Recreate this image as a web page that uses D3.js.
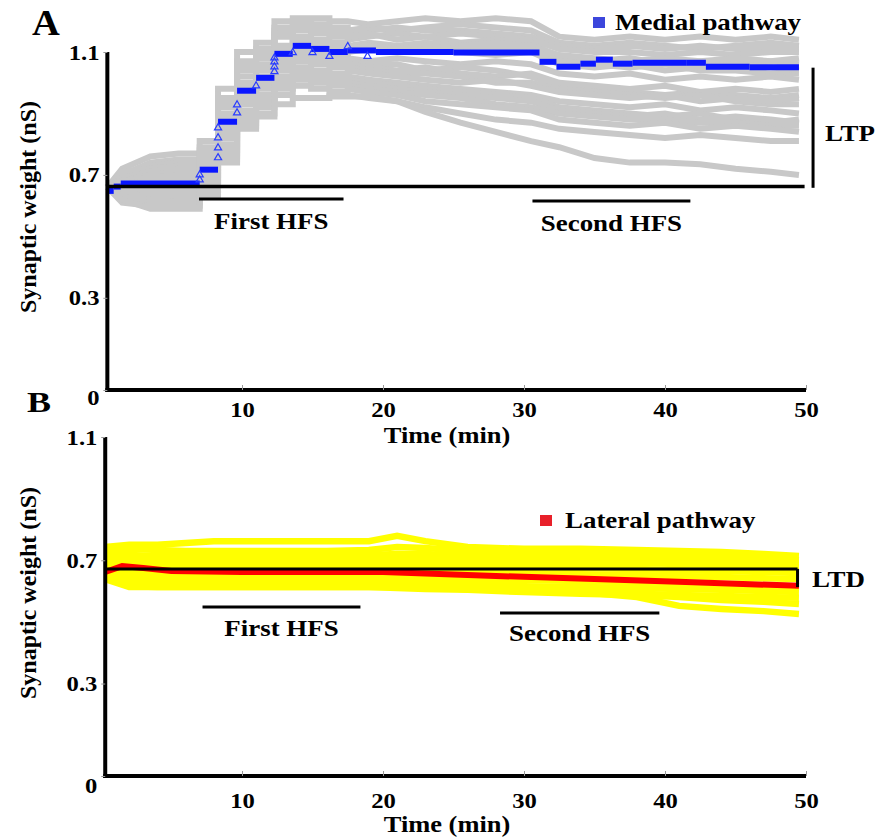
<!DOCTYPE html>
<html>
<head>
<meta charset="utf-8">
<script src="https://cdn.jsdelivr.net/npm/d3@7"></script>
<style>
    body { margin: 0; background: #fff; }
    svg text { font-family: "Liberation Serif", "Times New Roman", serif; font-weight: bold; fill: #000; }
</style>
</head>
<body>
<svg id="chart" width="879" height="840"></svg>
<script>
// ---- data (time in min, weight in nS) ----
var xTicks = [10, 20, 30, 40, 50];
var yTicks = [0, 0.3, 0.7, 1.1];

// panel A: medial pathway, single cells (grey) and mean (blue)
var timesA = [0.45, 1.5, 3.5, 5.5, 7.0, 8.3, 9.65, 11.0, 12.3, 13.6, 14.9, 16.2, 17.5, 19, 21, 23, 25.5, 28, 30.5, 32.5, 35, 37.5, 40, 42.5, 45, 47.5, 49.5];
var hfsStepsA = [7.0, 8.3, 9.65, 11.0, 12.3, 13.6, 14.9, 16.2, 17.5];
var grayTraces = [
    [0.66, 0.72, 0.76, 0.77, 0.81, 0.98, 1.10, 1.13, 1.20, 1.21, 1.21, 1.20, 1.20, 1.19, 1.20, 1.21, 1.20, 1.21, 1.20, 1.15, 1.14, 1.15, 1.14, 1.15, 1.14, 1.15, 1.14],
    [0.66, 0.70, 0.74, 0.75, 0.79, 0.95, 1.07, 1.11, 1.17, 1.20, 1.19, 1.18, 1.17, 1.18, 1.17, 1.18, 1.19, 1.18, 1.17, 1.13, 1.12, 1.13, 1.12, 1.11, 1.12, 1.13, 1.12],
    [0.66, 0.70, 0.73, 0.74, 0.78, 0.94, 1.06, 1.10, 1.18, 1.19, 1.18, 1.17, 1.16, 1.17, 1.18, 1.17, 1.17, 1.16, 1.15, 1.12, 1.11, 1.12, 1.11, 1.12, 1.11, 1.11, 1.11],
    [0.66, 0.71, 0.72, 0.73, 0.77, 0.93, 1.04, 1.09, 1.15, 1.17, 1.16, 1.15, 1.14, 1.15, 1.16, 1.15, 1.16, 1.15, 1.14, 1.11, 1.10, 1.10, 1.09, 1.10, 1.09, 1.10, 1.10],
    [0.66, 0.69, 0.70, 0.71, 0.76, 0.92, 1.05, 1.08, 1.16, 1.18, 1.17, 1.16, 1.15, 1.16, 1.14, 1.15, 1.13, 1.14, 1.13, 1.08, 1.07, 1.08, 1.06, 1.07, 1.06, 1.07, 1.06],
    [0.66, 0.69, 0.71, 0.72, 0.75, 0.90, 1.02, 1.06, 1.12, 1.15, 1.14, 1.13, 1.12, 1.13, 1.12, 1.13, 1.12, 1.13, 1.12, 1.09, 1.08, 1.07, 1.08, 1.07, 1.08, 1.07, 1.08],
    [0.66, 0.68, 0.70, 0.71, 0.74, 0.89, 1.00, 1.05, 1.11, 1.14, 1.13, 1.12, 1.11, 1.12, 1.11, 1.12, 1.11, 1.11, 1.11, 1.07, 1.06, 1.05, 1.06, 1.04, 1.04, 1.03, 1.03],
    [0.66, 0.68, 0.69, 0.70, 0.73, 0.88, 0.99, 1.04, 1.10, 1.13, 1.12, 1.11, 1.10, 1.11, 1.10, 1.11, 1.10, 1.09, 1.10, 1.06, 1.05, 1.06, 1.04, 1.05, 1.06, 1.05, 1.04],
    [0.66, 0.67, 0.68, 0.68, 0.72, 0.86, 0.97, 1.02, 1.08, 1.11, 1.10, 1.09, 1.08, 1.07, 1.08, 1.07, 1.06, 1.07, 1.06, 1.03, 1.02, 1.03, 1.01, 1.02, 1.01, 1.02, 1.01],
    [0.66, 0.67, 0.67, 0.66, 0.71, 0.85, 0.96, 1.01, 1.07, 1.10, 1.09, 1.08, 1.07, 1.06, 1.06, 1.04, 1.05, 1.04, 1.02, 0.99, 0.98, 0.97, 0.96, 0.97, 0.96, 0.95, 0.96],
    [0.66, 0.66, 0.66, 0.67, 0.70, 0.84, 0.95, 1.00, 1.06, 1.09, 1.08, 1.07, 1.06, 1.05, 1.04, 1.05, 1.03, 1.02, 1.03, 1.00, 0.99, 0.98, 0.99, 0.97, 0.98, 0.97, 0.98],
    [0.66, 0.65, 0.66, 0.66, 0.70, 0.83, 0.94, 0.99, 1.05, 1.08, 1.07, 1.06, 1.05, 1.04, 1.03, 1.03, 1.02, 1.00, 1.00, 0.98, 0.97, 0.96, 0.95, 0.96, 0.94, 0.93, 0.93],
    [0.66, 0.65, 0.65, 0.65, 0.69, 0.82, 0.93, 0.98, 1.04, 1.07, 1.06, 1.05, 1.04, 1.03, 1.02, 1.01, 1.00, 1.01, 0.99, 0.97, 0.96, 0.95, 0.96, 0.94, 0.95, 0.94, 0.95],
    [0.66, 0.64, 0.64, 0.64, 0.68, 0.80, 0.91, 0.96, 1.02, 1.05, 1.04, 1.03, 1.02, 1.01, 1.00, 0.99, 0.98, 0.97, 0.96, 0.94, 0.93, 0.92, 0.93, 0.91, 0.92, 0.91, 0.90],
    [0.66, 0.64, 0.63, 0.63, 0.67, 0.79, 0.90, 0.95, 1.01, 1.04, 1.03, 1.02, 1.01, 1.00, 0.99, 0.98, 0.97, 0.96, 0.95, 0.92, 0.91, 0.90, 0.89, 0.90, 0.88, 0.87, 0.88],
    [0.66, 0.63, 0.62, 0.62, 0.66, 0.78, 0.89, 0.94, 1.00, 1.03, 1.02, 1.01, 1.00, 0.99, 0.98, 0.97, 0.96, 0.95, 0.94, 0.91, 0.90, 0.89, 0.90, 0.88, 0.89, 0.88, 0.87],
    [0.66, 0.63, 0.62, 0.61, 0.65, 0.77, 0.88, 0.93, 0.99, 1.02, 1.01, 1.00, 0.99, 0.98, 0.97, 0.96, 0.95, 0.93, 0.92, 0.90, 0.89, 0.88, 0.88, 0.87, 0.87, 0.86, 0.86],
    [0.66, 0.62, 0.61, 0.61, 0.65, 0.76, 0.87, 0.92, 0.98, 1.01, 1.00, 0.99, 0.98, 0.97, 0.96, 0.94, 0.93, 0.92, 0.91, 0.88, 0.87, 0.86, 0.87, 0.85, 0.86, 0.85, 0.84],
    [0.66, 0.61, 0.60, 0.60, 0.64, 0.75, 0.86, 0.90, 0.96, 0.99, 0.98, 0.97, 0.96, 0.95, 0.94, 0.92, 0.90, 0.88, 0.87, 0.85, 0.84, 0.83, 0.82, 0.83, 0.82, 0.81, 0.81],
    [0.66, 0.62, 0.59, 0.59, 0.63, 0.74, 0.85, 0.89, 0.93, 0.95, 0.95, 0.955, 0.955, 0.955, 0.94, 0.905, 0.87, 0.84, 0.81, 0.79, 0.755, 0.74, 0.74, 0.735, 0.72, 0.71, 0.70]
];
var blueTimes = [0.45, 0.9, 1.4, 7.0, 8.3, 9.65, 11.0, 12.3, 13.6, 14.9, 16.2, 17.5, 19.5, 25, 31.1, 32.3, 34.0, 35.1, 36.3, 37.7, 41.5, 42.9, 46, 49.5];
var blueValues = [0.648, 0.662, 0.672, 0.717, 0.873, 0.974, 1.016, 1.094, 1.12, 1.11, 1.10, 1.105, 1.10, 1.098, 1.068, 1.052, 1.062, 1.075, 1.062, 1.065, 1.065, 1.052, 1.050, 1.048];
var triTimes = [7.0, 7.0, 8.3, 8.3, 8.3, 8.3, 9.65, 9.65, 11.0, 12.3, 12.3, 12.3, 12.3, 13.6, 15.0, 16.2, 17.5, 18.9];
var triValues = [0.684, 0.70, 0.756, 0.788, 0.821, 0.853, 0.902, 0.928, 0.99, 1.036, 1.052, 1.068, 1.081, 1.098, 1.098, 1.086, 1.118, 1.086];
var refA = [0.45, 49.9, 0.662];               // baseline level (from, to, value)
var hfsA = [[6.95, 17.2, 0.622], [30.6, 41.8, 0.615]];
var ltpBar = [50.5, 1.049, 0.658];

// panel B: lateral pathway, single cells (yellow) and mean (red)
var timesB = [0.3, 2, 4, 6, 8, 12, 16, 19, 21, 23, 26, 30, 34, 38, 41, 44, 47, 49.5];
var yellowTraces = [
    [0.743, 0.750, 0.750, 0.756, 0.762, 0.762, 0.762, 0.762, 0.779, 0.762, 0.743, 0.737, 0.737, 0.733, 0.730, 0.727, 0.720, 0.714],
    [0.733, 0.737, 0.733, 0.730, 0.730, 0.730, 0.730, 0.733, 0.743, 0.740, 0.730, 0.727, 0.724, 0.720, 0.717, 0.714, 0.707, 0.701],
    [0.717, 0.717, 0.714, 0.714, 0.714, 0.714, 0.717, 0.717, 0.720, 0.720, 0.714, 0.711, 0.707, 0.704, 0.704, 0.701, 0.694, 0.691],
    [0.701, 0.701, 0.698, 0.698, 0.698, 0.698, 0.701, 0.701, 0.701, 0.701, 0.698, 0.694, 0.691, 0.691, 0.688, 0.685, 0.681, 0.678],
    [0.685, 0.685, 0.681, 0.681, 0.681, 0.681, 0.681, 0.685, 0.685, 0.681, 0.681, 0.678, 0.675, 0.672, 0.668, 0.665, 0.662, 0.659],
    [0.668, 0.665, 0.665, 0.665, 0.665, 0.665, 0.665, 0.665, 0.665, 0.665, 0.662, 0.659, 0.655, 0.652, 0.649, 0.646, 0.642, 0.639],
    [0.655, 0.649, 0.649, 0.646, 0.646, 0.646, 0.646, 0.646, 0.646, 0.642, 0.639, 0.636, 0.633, 0.629, 0.626, 0.623, 0.620, 0.616],
    [0.649, 0.636, 0.633, 0.629, 0.629, 0.629, 0.629, 0.629, 0.626, 0.626, 0.623, 0.616, 0.613, 0.610, 0.607, 0.604, 0.600, 0.597],
    [0.642, 0.623, 0.620, 0.616, 0.616, 0.616, 0.616, 0.616, 0.613, 0.610, 0.607, 0.604, 0.597, 0.591, 0.587, 0.584, 0.581, 0.578],
    [0.639, 0.613, 0.613, 0.613, 0.613, 0.613, 0.613, 0.613, 0.610, 0.607, 0.604, 0.597, 0.591, 0.587, 0.581, 0.571, 0.565, 0.558],
    [0.642, 0.616, 0.613, 0.613, 0.613, 0.613, 0.613, 0.613, 0.613, 0.610, 0.607, 0.604, 0.597, 0.581, 0.552, 0.542, 0.535, 0.526]
];
var redTimes = [0.3, 1.5, 3, 5, 10, 20, 22, 28, 35, 42, 49.5];
var redValues = [0.662, 0.681, 0.675, 0.665, 0.662, 0.662, 0.659, 0.649, 0.639, 0.629, 0.617];
var refB = [0.3, 49.4, 0.672];
var hfsB = [[7.2, 18.4, 0.548], [28.3, 39.6, 0.529]];
var ltdBar = [49.4, 0.672, 0.613];

// ---- scales ----
var svg = d3.select("#chart");
var x = d3.scaleLinear().domain([0, 50]).range([101, 806]);
var yA = d3.scaleLinear().domain([0, 1.1]).range([390, 52]);
var yB = d3.scaleLinear().domain([0, 1.1]).range([776, 437]);

// text a bit wider than the font, like the source figure
function addText(g, px, py, str, size, anchor, sx) {
    return g.append("text")
        .attr("transform", "translate(" + px + "," + py + ") scale(" + (sx || 1.17) + ",1)")
        .attr("text-anchor", anchor || "middle")
        .style("font-size", size + "px")
        .text(str);
}

// square steps only at the HFS trains
function stepped(times, vals, steps) {
    var pts = [];
    times.forEach(function(t, i) {
        if (i > 0 && steps.indexOf(t) >= 0) pts.push([t, vals[i - 1]]);
        pts.push([t, vals[i]]);
    });
    return pts;
}

function hline(g, y, x1, x2, v, w) {
    g.append("line")
        .attr("x1", x(x1)).attr("x2", x(x2))
        .attr("y1", y(v)).attr("y2", y(v))
        .attr("stroke", "#000").attr("stroke-width", w || 3);
}

function drawAxes(g, y, x0, zeroDy, labelY, titleY, ytitleY) {
    g.append("line")
        .attr("x1", x(x0)).attr("x2", x(x0))
        .attr("y1", y(1.1)).attr("y2", y(0) + 2)
        .attr("stroke", "#000").attr("stroke-width", 4);
    g.append("line")
        .attr("x1", x(x0) - 2).attr("x2", x(50))
        .attr("y1", y(0)).attr("y2", y(0))
        .attr("stroke", "#000").attr("stroke-width", 4);

    let yAxis = g.append("g")
        .attr("transform", "translate(" + x(x0) + ",0)")
        .call(d3.axisLeft(y).tickValues(yTicks).tickSize(4).tickPadding(3)
            .tickFormat(function(d) { return d === 0 ? "0" : d3.format(".1f")(d); }));
    yAxis.select(".domain").remove();
    yAxis.selectAll("line").attr("stroke", "#999");
    yAxis.selectAll("text")
        .attr("fill", "#000")
        .attr("font-family", null)
        .style("font-size", "22px")
        .attr("dy", function(d) { return d === 0 ? zeroDy : "0.32em"; })
        .attr("transform", "scale(1.12,1)");

    let xAxis = g.append("g")
        .attr("transform", "translate(0," + y(0) + ")")
        .call(d3.axisBottom(x).tickValues(xTicks).tickSize(-5).tickSizeOuter(0));
    xAxis.select(".domain").remove();
    xAxis.selectAll("line").attr("stroke", "#999");
    xAxis.selectAll("text")
        .attr("fill", "#000")
        .attr("font-family", null)
        .style("font-size", "22px")
        .attr("y", labelY).attr("dy", 0)
        .attr("transform", "scale(1.12,1)");

    addText(g, 447, titleY, "Time (min)", 23, "middle", 1.15);

    g.append("text")
        .attr("transform", "translate(36," + ytitleY + ") rotate(-90)")
        .attr("text-anchor", "middle")
        .style("font-size", "24px")
        .text("Synaptic weight (nS)");
}

// ---- panel A ----
var gA = svg.append("g");
var lineA = d3.line().x(function(d) { return x(d[0]); }).y(function(d) { return yA(d[1]); });

gA.selectAll(".gray")
    .data(grayTraces)
    .enter()
    .append("path")
    .attr("class", "gray")
    .attr("d", function(v) { return lineA(stepped(timesA, v, hfsStepsA)); })
    .attr("fill", "none")
    .attr("stroke", "#c8c8c8")
    .attr("stroke-width", 6);

// mean drawn as flat plateaus; the jumps are shown only by the markers
gA.selectAll(".blue")
    .data(d3.pairs(d3.zip(blueTimes, blueValues)))
    .enter()
    .append("line")
    .attr("class", "blue")
    .attr("x1", function(d) { return x(d[0][0]); })
    .attr("x2", function(d) { return x(d[1][0]); })
    .attr("y1", function(d) { return yA(d[0][1]); })
    .attr("y2", function(d) { return yA(d[0][1]); })
    .attr("stroke", "#0a16ff")
    .attr("stroke-width", 6);

hline(gA, yA, refA[0], refA[1], refA[2], 3.5);

gA.selectAll(".tri")
    .data(d3.zip(triTimes, triValues))
    .enter()
    .append("path")
    .attr("class", "tri")
    .attr("transform", function(d) { return "translate(" + x(d[0]) + "," + yA(d[1]) + ")"; })
    .attr("d", d3.symbol().type(d3.symbolTriangle).size(22))
    .attr("fill", "none")
    .attr("stroke", "#2a3cff")
    .attr("stroke-width", 1.2);

hfsA.forEach(function(h) { hline(gA, yA, h[0], h[1], h[2], 3); });
addText(gA, x((hfsA[0][0] + hfsA[0][1]) / 2), yA(hfsA[0][2]) + 30, "First HFS", 23);
addText(gA, x((hfsA[1][0] + hfsA[1][1]) / 2), yA(hfsA[1][2]) + 30, "Second HFS", 23);

gA.append("line")
    .attr("x1", x(ltpBar[0])).attr("x2", x(ltpBar[0]))
    .attr("y1", yA(ltpBar[1])).attr("y2", yA(ltpBar[2]))
    .attr("stroke", "#000").attr("stroke-width", 3);
addText(gA, 825, 141, "LTP", 23, "start");

gA.append("rect").attr("x", 593).attr("y", 17).attr("width", 12).attr("height", 11).attr("fill", "#3c46dc");
addText(gA, 615, 30, "Medial pathway", 23, "start");

drawAxes(gA, yA, 0.45, "0.65em", 27, 443, 207);
addText(svg, 32, 35, "A", 35, "start", 1.1);

// ---- panel B ----
var gB = svg.append("g");
var lineB = d3.line().x(function(d) { return x(d[0]); }).y(function(d) { return yB(d[1]); });

gB.selectAll(".yellow")
    .data(yellowTraces)
    .enter()
    .append("path")
    .attr("class", "yellow")
    .attr("d", function(v) { return lineB(d3.zip(timesB, v)); })
    .attr("fill", "none")
    .attr("stroke", "#ffff00")
    .attr("stroke-width", 6.5);

gB.append("path")
    .attr("d", lineB(d3.zip(redTimes, redValues)))
    .attr("fill", "none")
    .attr("stroke", "#ff0000")
    .attr("stroke-width", 6);

hline(gB, yB, refB[0], refB[1], refB[2], 3);

hfsB.forEach(function(h) { hline(gB, yB, h[0], h[1], h[2], 3); });
addText(gB, x((hfsB[0][0] + hfsB[0][1]) / 2), yB(hfsB[0][2]) + 29, "First HFS", 23);
addText(gB, x((hfsB[1][0] + hfsB[1][1]) / 2), yB(hfsB[1][2]) + 28, "Second HFS", 23);

gB.append("line")
    .attr("x1", x(ltdBar[0])).attr("x2", x(ltdBar[0]))
    .attr("y1", yB(ltdBar[1])).attr("y2", yB(ltdBar[2]))
    .attr("stroke", "#000").attr("stroke-width", 3);
addText(gB, 812, 587, "LTD", 23, "start");

gB.append("rect").attr("x", 540).attr("y", 515).attr("width", 12).attr("height", 11).attr("fill", "#e8202a");
addText(gB, 565, 528, "Lateral pathway", 23, "start");

drawAxes(gB, yB, 0.3, "0.73em", 32, 832, 593);
addText(svg, 27, 412, "B", 30, "start", 1.2);
</script>
</body>
</html>
